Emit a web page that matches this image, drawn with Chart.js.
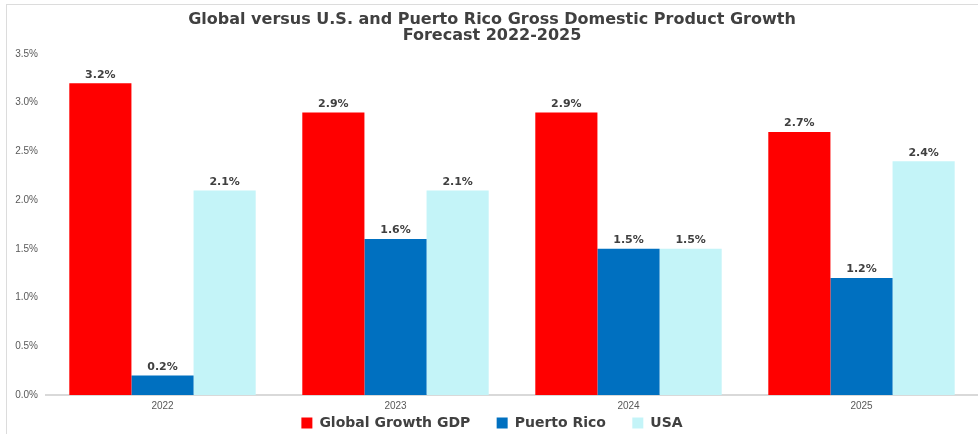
<!DOCTYPE html>
<html>
<head>
<meta charset="utf-8">
<script src="https://cdn.jsdelivr.net/npm/chart.js@4.4.1/dist/chart.umd.min.js"></script>
<style>
  html, body { margin: 0; padding: 0; background: #fff; }
  #wrap { position: relative; width: 978px; height: 434px; }
  #frame { position: absolute; left: 6px; top: 4px; right: 0; bottom: 0; border-top: 1px solid #dcdcdc; border-left: 1px solid #dcdcdc; }
  canvas { position: absolute; left: 0; top: 0; }
</style>
</head>
<body>
<div id="wrap">
  <div id="frame"></div>
  <canvas id="chart" width="978" height="434"></canvas>
</div>
<script>
const years = ["2022", "2023", "2024", "2025"];
const globalGrowth = [3.2, 2.9, 2.9, 2.7];
const puertoRico = [0.2, 1.6, 1.5, 1.2];
const usa = [2.1, 2.1, 1.5, 2.4];

const boldFont = "'DejaVu Sans', 'Liberation Sans', Arial, sans-serif";
const tickFont = "'Liberation Sans', Arial, sans-serif";

// value labels above each bar
const barLabels = {
  id: "barLabels",
  afterDatasetsDraw(chart) {
    const ctx = chart.ctx;
    ctx.save();
    ctx.font = "bold 11px " + boldFont;
    ctx.fillStyle = "#404040";
    ctx.textAlign = "center";
    ctx.textBaseline = "bottom";
    chart.data.datasets.forEach((ds, i) => {
      chart.getDatasetMeta(i).data.forEach((bar, j) => {
        ctx.fillText(ds.data[j].toFixed(1) + "%", bar.x, bar.y - 3);
      });
    });
    ctx.restore();
  }
};

// legend sits tighter to the bottom edge than the default box allows
const tightLegend = {
  id: "tightLegend",
  afterInit(chart) {
    const legend = chart.legend;
    const fit = legend.fit;
    legend.fit = function () {
      fit.call(this);
      this.height -= 6;
    };
  }
};

new Chart(document.getElementById("chart"), {
  type: "bar",
  data: {
    labels: years,
    datasets: [
      { label: "Global Growth GDP", data: globalGrowth, backgroundColor: "#ff0000" },
      { label: "Puerto Rico", data: puertoRico, backgroundColor: "#0070c0" },
      { label: "USA", data: usa, backgroundColor: "#c4f4f8" }
    ]
  },
  options: {
    responsive: false,
    animation: false,
    layout: { padding: { left: 6, right: 0, top: 0, bottom: 0 } },
    datasets: { bar: { categoryPercentage: 0.8, barPercentage: 1.0 } },
    plugins: {
      title: {
        display: true,
        text: ["Global versus U.S. and Puerto Rico Gross Domestic Product Growth", "Forecast 2022-2025"],
        color: "#404040",
        font: { family: boldFont, size: 16, weight: "bold", lineHeight: "16px" },
        padding: { top: 12, bottom: 10 }
      },
      legend: {
        position: "bottom",
        labels: {
          boxWidth: 11,
          boxHeight: 11,
          padding: 2,
          color: "#404040",
          font: { family: boldFont, size: 14, weight: "bold", lineHeight: 1 },
          // wider gaps between items without a taller legend
          generateLabels(chart) {
            const items = Chart.defaults.plugins.legend.labels.generateLabels(chart);
            items.forEach((it, i) => {
              if (i < items.length - 1) it.text += "     ";
            });
            return items;
          }
        }
      },
      tooltip: { enabled: false }
    },
    scales: {
      x: {
        grid: { display: false, drawTicks: false },
        border: { display: true, color: "#d9d9d9", width: 2 },
        afterFit(axis) { axis.height -= 3; },
        ticks: { color: "#595959", font: { family: tickFont, size: 10, lineHeight: 1 }, padding: 6 }
      },
      y: {
        min: 0,
        max: 3.5,
        grid: { display: false, drawTicks: false },
        border: { display: false },
        afterFit(axis) { axis.width = 40; },
        ticks: {
          stepSize: 0.5,
          padding: 8,
          color: "#595959",
          font: { family: tickFont, size: 10 },
          callback: (v) => v.toFixed(1) + "%"
        }
      }
    }
  },
  plugins: [barLabels, tightLegend]
});
</script>
</body>
</html>
